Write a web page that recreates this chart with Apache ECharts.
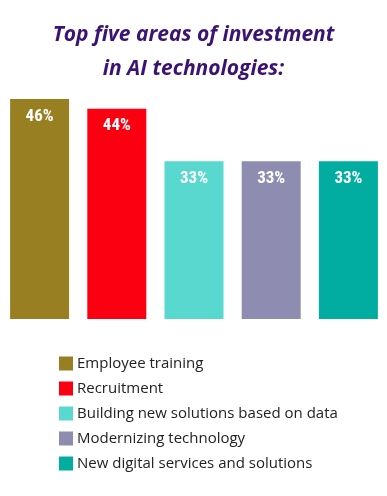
<!DOCTYPE html>
<html>
<head>
<meta charset="utf-8">
<script src="https://cdn.jsdelivr.net/npm/echarts@6/dist/echarts.min.js"></script>
<style>
html,body{margin:0;padding:0;background:#fff;}
#c{width:387px;height:496px;}
</style>
</head>
<body>
<div id="c"></div>
<script>
const categories = ["Employee training", "Recruitment", "Building new solutions based on data", "Modernizing technology", "New digital services and solutions"];
const values = [46, 44, 33, 33, 33];
const colors = ["#977f22", "#fa0010", "#58d8cf", "#8f8cb1", "#00ada0"];
const titleText = "Top five areas of investment\nin AI technologies:";

const chart = echarts.init(document.getElementById('c'));
const series = categories.map((name, i) => ({
  name: name,
  type: 'bar',
  stack: 'all',
  barWidth: 59,
  itemStyle: { color: colors[i] },
  label: {
    show: true,
    position: 'insideTop',
    distance: 9,
    formatter: '{c}%',
    color: '#fff',
    fontFamily: 'Liberation Sans Narrow, Roboto Condensed, sans-serif',
    fontWeight: 'bold',
    fontSize: 17
  },
  data: values.map((v, j) => j === i ? v : '-')
}));

chart.setOption({
  animation: false,
  title: {
    text: titleText,
    left: 'center',
    top: 13,
    textStyle: {
      color: '#3b1372',
      fontFamily: 'Open Sans, sans-serif',
      fontStyle: 'italic',
      fontWeight: 'bold',
      fontSize: 21,
      lineHeight: 34
    }
  },
  legend: {
    orient: 'vertical',
    left: 59,
    top: 356,
    padding: 0,
    itemWidth: 14,
    itemHeight: 14,
    itemGap: 10,
    icon: 'rect',
    textStyle: { color: '#222', fontSize: 15, lineHeight: 14, fontFamily: 'Open Sans, sans-serif', padding: [0, 0, 0, -1] },
    data: categories
  },
  grid: { left: 1, width: 386, top: 80, bottom: 177, containLabel: false },
  xAxis: {
    type: 'category',
    data: categories,
    axisLine: { show: false },
    axisTick: { show: false },
    axisLabel: { show: false }
  },
  yAxis: {
    type: 'value',
    min: 0,
    max: 50,
    show: false,
    splitLine: { show: false }
  },
  series: series
});
</script>
</body>
</html>
